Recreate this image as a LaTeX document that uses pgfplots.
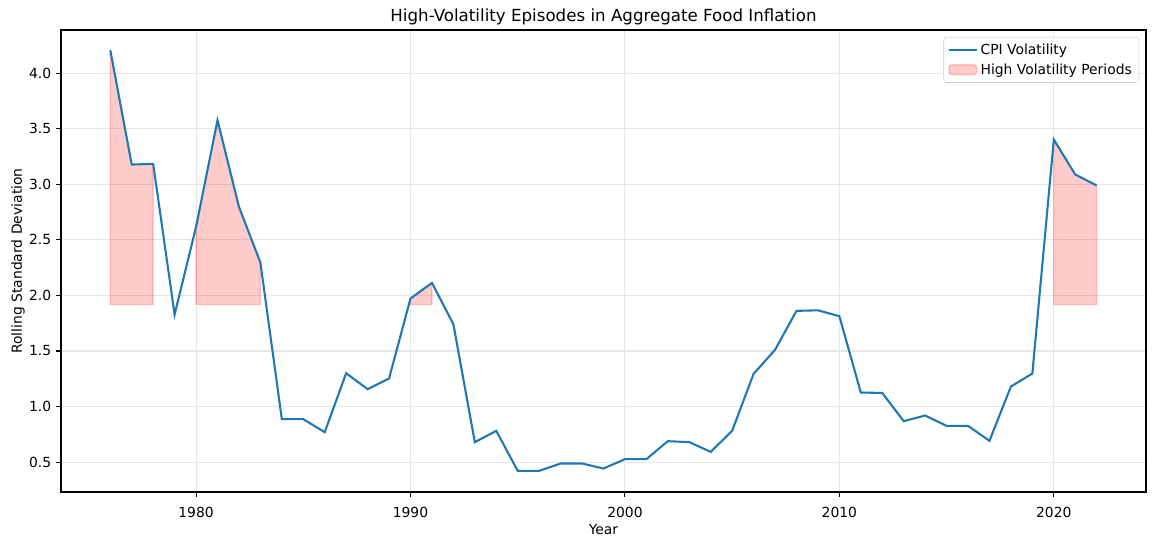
\documentclass[border=0pt]{standalone}
\usepackage{pgfplots}
\pgfplotsset{compat=1.18}
\usepackage{fontspec}
\setmainfont{DejaVu Sans}

\definecolor{mplblue}{HTML}{1F77B4}
\definecolor{gridgray}{RGB}{231,231,231}
\definecolor{legendedge}{RGB}{204,204,204}

\pgfplotsset{
  patchstyle/.style={fill=red, fill opacity=0.2, draw=red, draw opacity=0.2, line width=1pt},
  lineleg/.style={legend image code/.code={\draw[##1] (0pt,0pt) -- (20pt,0pt);}},
  patchleg/.style={legend image code/.code={\draw[##1] (0pt,-3.5pt) rectangle (20pt,3.5pt);}},
}

\begin{document}
\begin{tikzpicture}
\begin{axis}[
  scale only axis,
  width=781.2pt, height=332.6pt,
  xmin=1973.7, xmax=2024.3,
  ymin=0.231, ymax=4.389,
  xtick={1980,1990,2000,2010,2020},
  ytick={0.5,1.0,1.5,2.0,2.5,3.0,3.5,4.0},
  tick pos=left,
  tick align=outside,
  major tick length=3.5pt,
  every tick/.style={black, line width=0.8pt},
  axis line style={line width=0.8pt},
  grid=major,
  major grid style={gridgray, line width=0.8pt},
  /pgf/number format/assume math mode=true,
  x tick label style={/pgf/number format/1000 sep={}, anchor=base, yshift=-15pt},
  y tick label style={/pgf/number format/fixed, /pgf/number format/fixed zerofill, /pgf/number format/precision=1},
  font=\fontsize{10}{12}\selectfont,
  ticklabel style={font=\fontsize{10}{12}\selectfont},
  title={High-Volatility Episodes in Aggregate Food Inflation},
  title style={at={(axis description cs:0.5,1)}, anchor=base, font=\fontsize{12}{14}\selectfont},
  xlabel={Year},
  xlabel style={at={(axis description cs:0.5,-0.093)}, anchor=base},
  ylabel={Rolling Standard Deviation},
  ylabel style={at={(axis description cs:-0.036,0.5)}, anchor=base},
  legend cell align=left,
  legend style={at={(axis description cs:1,1)}, xshift=-5pt, yshift=-5pt, anchor=north east,
    draw=legendedge, rounded corners=2pt, fill=white, fill opacity=0.8, text opacity=1,
    font=\fontsize{10}{12}\selectfont, inner xsep=3pt, inner ysep=2pt, row sep=0pt,
    nodes={inner ysep=2.6pt}},
]
% high volatility periods (value above threshold 1.918), drawn below the line
\addplot[patchstyle, forget plot]
  coordinates {(1976,1.918) (1976,4.207) (1977,3.178) (1978,3.184) (1978,1.918)} -- cycle;
\addplot[patchstyle, forget plot]
  coordinates {(1980,1.918) (1980,2.617) (1981,3.577) (1982,2.797) (1983,2.296) (1983,1.918)} -- cycle;
\addplot[patchstyle, forget plot]
  coordinates {(1990,1.918) (1990,1.972) (1991,2.113) (1991,1.918)} -- cycle;
\addplot[patchstyle, forget plot]
  coordinates {(2020,1.918) (2020,3.403) (2021,3.088) (2022,2.989) (2022,1.918)} -- cycle;

\addplot[mplblue, line width=1.5pt, lineleg]
  coordinates {
  (1976,4.207) (1977,3.178) (1978,3.184) (1979,1.828) (1980,2.617)
  (1981,3.577) (1982,2.797) (1983,2.296) (1984,0.886) (1985,0.886)
  (1986,0.769) (1987,1.300) (1988,1.156) (1989,1.252) (1990,1.972)
  (1991,2.113) (1992,1.741) (1993,0.679) (1994,0.781) (1995,0.421)
  (1996,0.421) (1997,0.487) (1998,0.487) (1999,0.442) (2000,0.526)
  (2001,0.526) (2002,0.688) (2003,0.679) (2004,0.592) (2005,0.781)
  (2006,1.294) (2007,1.510) (2008,1.861) (2009,1.866) (2010,1.813)
  (2011,1.126) (2012,1.122) (2013,0.868) (2014,0.919) (2015,0.826)
  (2016,0.826) (2017,0.691) (2018,1.180) (2019,1.297) (2020,3.403)
  (2021,3.088) (2022,2.989)
  };
\addlegendentry{CPI Volatility}
\addlegendimage{patchstyle, patchleg}
\addlegendentry{High Volatility Periods}
\end{axis}
\pgfresetboundingbox
\path[use as bounding box] (-43.9pt,-38.2pt) rectangle (788.4pt,354.2pt);
\end{tikzpicture}
\end{document}
